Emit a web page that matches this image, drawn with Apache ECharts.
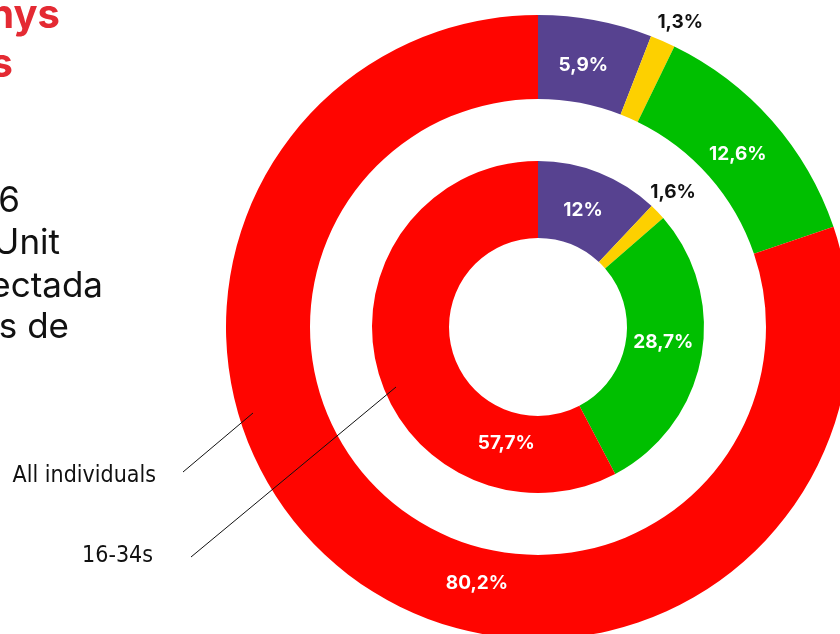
<!DOCTYPE html>
<html>
<head>
<meta charset="utf-8">
<script src="https://cdn.jsdelivr.net/npm/echarts@6/dist/echarts.min.js"></script>
<style>
  html, body { margin: 0; padding: 0; background: #ffffff; }
  #chart { width: 840px; height: 634px; }
</style>
</head>
<body>
<div id="chart"></div>
<script>
// Share of each group, clockwise from twelve o'clock
const groups = ['Purple', 'Yellow', 'Green', 'Red'];
const allIndividuals = [5.9, 1.3, 12.6, 80.2];
const age16to34 = [12, 1.6, 28.7, 57.7];
const ringNames = ['All individuals', '16-34s'];

const palette = ['#574290', '#fdd000', '#00bf00', '#ff0500'];
const labelColours = ['#ffffff', '#111111', '#ffffff', '#ffffff'];

// Small label nudges away from the slice centre
const outerNudge = [[-5, 7], [33, -55], [-5, 8], [98, 34]];
const innerNudge = [[-3, 5], [41, -44], [-3, -9], [95, 85]];

const fmt = v => String(v).replace('.', ',') + '%';

function ring(name, values, radius, nudge) {
  return {
    type: 'pie',
    name: name,
    center: [538, 327],
    radius: radius,
    startAngle: 90,
    clockwise: true,
    silent: true,
    animation: false,
    label: {
      show: true,
      position: 'inside',
      formatter: p => fmt(p.value),
      fontFamily: 'Inter, "Liberation Sans", sans-serif',
      fontWeight: 'bold',
      fontSize: 19
    },
    labelLine: { show: false },
    labelLayout: p => ({ dx: nudge[p.dataIndex][0], dy: nudge[p.dataIndex][1] }),
    data: values.map((v, i) => ({
      name: groups[i],
      value: v,
      itemStyle: { color: palette[i] },
      label: { color: labelColours[i] }
    }))
  };
}

const chart = echarts.init(document.getElementById('chart'), null, { renderer: 'canvas' });

const bodyFont = '35px Inter, "Liberation Sans", sans-serif';
const titleFont = 'bold 40px Inter, "Liberation Sans", sans-serif';
const tagFont = '23px "Liberation Sans Narrow", "DejaVu Sans Condensed", sans-serif';

function leftText(str, x, y, font, fill) {
  return { type: 'text', x: x, y: y, style: { text: str, font: font, fill: fill, textAlign: 'right', textVerticalAlign: 'bottom' } };
}

chart.setOption({
  backgroundColor: '#ffffff',
  series: [
    ring(ringNames[0], allIndividuals, [228, 312], outerNudge),
    ring(ringNames[1], age16to34, [89, 166], innerNudge)
  ],
  graphic: [
    // heading and intro text running in from the left edge
    leftText('anys', 60, 36, titleFont, '#e42a33'),
    leftText('ers', 13, 85, titleFont, '#e42a33'),
    leftText('16', 20, 219, bodyFont, '#111111'),
    leftText('Unit', 60, 261, bodyFont, '#111111'),
    leftText('projectada', 103, 304, bodyFont, '#111111'),
    leftText('dades de', 69, 345, bodyFont, '#111111'),
    // ring captions with leader lines
    { type: 'text', x: 156, y: 476, style: { text: ringNames[0], font: tagFont, fill: '#111111', textAlign: 'right', textVerticalAlign: 'middle' } },
    { type: 'text', x: 153, y: 556, style: { text: ringNames[1], font: tagFont, fill: '#111111', textAlign: 'right', textVerticalAlign: 'middle' } },
    { type: 'line', shape: { x1: 183, y1: 472, x2: 253, y2: 413 }, style: { stroke: '#111111', lineWidth: 1 }, z: 10 },
    { type: 'line', shape: { x1: 191, y1: 557, x2: 396, y2: 387 }, style: { stroke: '#111111', lineWidth: 1 }, z: 10 }
  ]
});
</script>
</body>
</html>
